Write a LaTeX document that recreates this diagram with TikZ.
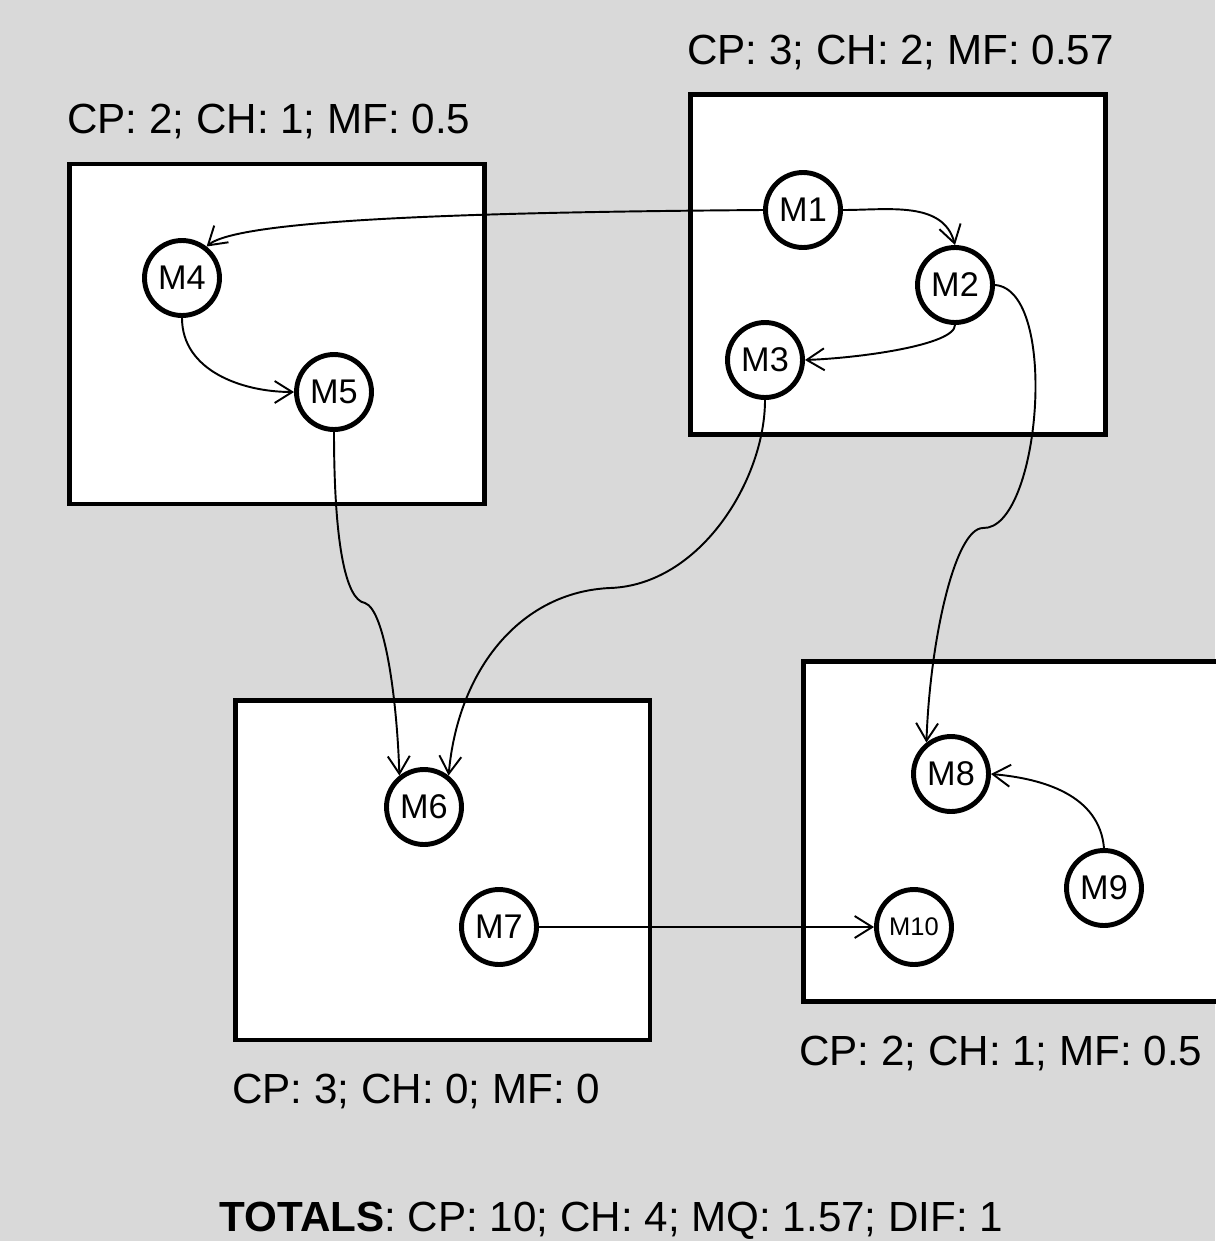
\documentclass[tikz,border=0pt]{standalone}
\usepackage{fontspec}
\setmainfont{Liberation Sans}
\usetikzlibrary{arrows.meta}
\definecolor{PanelGray}{RGB}{217,217,217}

\begin{document}
\begin{tikzpicture}[x=0.02cm, y=0.02cm,
    cluster/.style={draw=black, line width=2.8pt, fill=white, minimum width=8.3cm, minimum height=6.8cm, inner sep=0pt},
    module/.style={draw=black, circle, line width=2.8pt, fill=white, minimum size=1.5cm, inner sep=0pt, font=\fontsize{19.5}{19.5}\selectfont},
    stats/.style={anchor=base west, inner sep=0pt, font=\fontsize{24}{24}\selectfont},
    dep/.style={line width=1.1pt, -{Straight Barb[length=10pt,width=12.5pt]}}]
    \fill[PanelGray] (0,0) rectangle (1215,-1241);
    \useasboundingbox (0,0) rectangle (1215,-1241);

    % clusters
    \node[cluster] (boxA) at (277,-334) {};
    \node[cluster] (boxB) at (898,-264.5) {};
    \node[cluster] (boxC) at (442.5,-870) {};
    \node[cluster] (boxD) at (1011,-831.5) {};

    \node[stats] (statsA) at (67,-133) {CP: 2; CH: 1; MF: 0.5};
    \node[stats] (statsB) at (687,-64) {CP: 3; CH: 2; MF: 0.57};
    \node[stats] (statsC) at (232,-1103) {CP: 3; CH: 0; MF: 0};
    \node[stats] (statsD) at (799,-1065) {CP: 2; CH: 1; MF: 0.5};
    \node[anchor=base, inner sep=0pt, font=\fontsize{24}{24}\selectfont] (totals) at (611.5,-1231) {\textbf{TOTALS}: CP: 10; CH: 4; MQ: 1.57; DIF: 1};

    % modules
    \node[module] (m1) at (803,-210) {M1};
    \node[module] (m2) at (955,-285) {M2};
    \node[module] (m3) at (765,-360) {M3};
    \node[module] (m4) at (182,-278) {M4};
    \node[module] (m5) at (334,-392) {M5};
    \node[module] (m6) at (424,-807) {M6};
    \node[module] (m7) at (499,-927) {M7};
    \node[module] (m8) at (951,-774) {M8};
    \node[module] (m9) at (1104,-888) {M9};
    \node[module, font=\fontsize{14.5}{14.5}\selectfont] (m10) at (914,-927) {M10};

    % dependencies
    \draw[dep] (m1.west) .. controls (500,-212) and (240,-218) .. (m4.52);
    \draw[dep] (m1.east) to[out=0, in=105] (m2.north);
    \draw[dep] (m2.south) .. controls (955,-345) and (860,-358) .. (m3.east);
    \draw[dep] (m4.south) to[out=-90, in=180] (m5.west);
    \draw[dep] (m5.south) .. controls (334,-540) and (345,-600) .. (365,-603) .. controls (385,-610) and (397,-700) .. (m6.128);
    \draw[dep] (m3.south) .. controls (765,-480) and (700,-585) .. (610,-588) .. controls (520,-592) and (458,-670) .. (m6.52);
    \draw[dep] (m2.east) .. controls (1060,-290) and (1040,-530) .. (983,-528) .. controls (955,-528) and (930,-640) .. (m8.128);
    \draw[dep] (m9.north) to[out=95, in=-5] (m8.east);
    \draw[dep] (m7.east) -- (m10.west);
\end{tikzpicture}
\end{document}
